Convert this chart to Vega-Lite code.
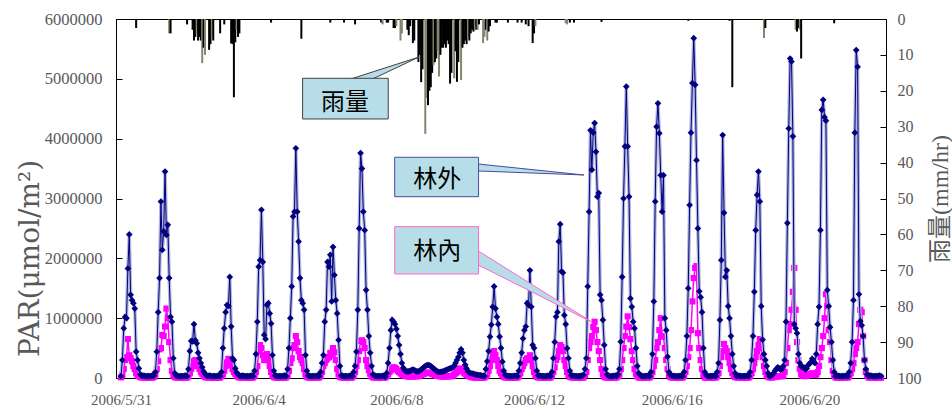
{
"$schema":"https://vega.github.io/schema/vega-lite/v6.json",
"width":770,"height":359,
"autosize":{"type":"none"},
"padding":{"left":116,"top":19,"right":66,"bottom":32},
"background":"white",
"config":{"view":{"stroke":"#000","strokeWidth":1},"axis":{"grid":false,"domainColor":"#000","tickColor":"#000","labelFont":"Liberation Serif","labelColor":"#595959","titleFont":"Liberation Serif, Noto Sans CJK TC","titleColor":"#595959","titleFontWeight":"normal"},
"axisLeft":{"titleFont":"DejaVu Serif","titleFontSize":28,"titleAngle":-90,"titleX":-86,"titleY":239,"titleAlign":"center","titleBaseline":"middle","labelFontSize":16.5,"tickSize":-6,"labelPadding":20,"labelFlush":false,"grid":false}},
"datasets":{
"par":[
{"t":"2006-05-31T00:00","o":30000,"i":10000},{"t":"2006-05-31T01:00","o":300000,"i":50000},{"t":"2006-05-31T02:00","o":830000,"i":150000},{"t":"2006-05-31T03:00","o":1020000,"i":300000},{"t":"2006-05-31T04:00","o":1000000,"i":350000},{"t":"2006-05-31T05:00","o":1830000,"i":650000},{"t":"2006-05-31T06:00","o":2400000,"i":380000},{"t":"2006-05-31T07:00","o":1390000,"i":330000},{"t":"2006-05-31T08:00","o":1300000,"i":280000},{"t":"2006-05-31T09:00","o":1250000,"i":200000},{"t":"2006-05-31T10:00","o":1160000,"i":150000},{"t":"2006-05-31T11:00","o":440000,"i":80000},{"t":"2006-05-31T12:00","o":300000,"i":50000},{"t":"2006-05-31T13:00","o":160000,"i":30000},{"t":"2006-05-31T14:00","o":60000,"i":15000},{"t":"2006-05-31T15:00","o":40000,"i":10000},{"t":"2006-05-31T16:00","o":40000,"i":10000},{"t":"2006-05-31T17:00","o":35000,"i":8000},{"t":"2006-05-31T18:00","o":30000,"i":5000},{"t":"2006-05-31T19:00","o":30000,"i":5000},{"t":"2006-05-31T20:00","o":30000,"i":5000},{"t":"2006-05-31T21:00","o":30000,"i":5000},{"t":"2006-05-31T22:00","o":35000,"i":5000},{"t":"2006-05-31T23:00","o":40000,"i":8000},
{"t":"2006-06-01T00:00","o":40000,"i":20000},{"t":"2006-06-01T01:00","o":100000,"i":60000},{"t":"2006-06-01T02:00","o":440000,"i":150000},{"t":"2006-06-01T03:00","o":1100000,"i":280000},{"t":"2006-06-01T04:00","o":1670000,"i":480000},{"t":"2006-06-01T05:00","o":2950000,"i":500000},{"t":"2006-06-01T06:00","o":2140000,"i":720000},{"t":"2006-06-01T07:00","o":2450000,"i":700000},{"t":"2006-06-01T08:00","o":3450000,"i":860000},{"t":"2006-06-01T09:00","o":2390000,"i":1160000},{"t":"2006-06-01T10:00","o":2560000,"i":1000000},{"t":"2006-06-01T11:00","o":1670000,"i":600000},{"t":"2006-06-01T12:00","o":1020000,"i":300000},{"t":"2006-06-01T13:00","o":940000,"i":120000},{"t":"2006-06-01T14:00","o":330000,"i":40000},{"t":"2006-06-01T15:00","o":80000,"i":15000},{"t":"2006-06-01T16:00","o":40000,"i":10000},{"t":"2006-06-01T17:00","o":35000,"i":8000},{"t":"2006-06-01T18:00","o":30000,"i":5000},{"t":"2006-06-01T19:00","o":30000,"i":5000},{"t":"2006-06-01T20:00","o":30000,"i":5000},{"t":"2006-06-01T21:00","o":30000,"i":5000},{"t":"2006-06-01T22:00","o":35000,"i":5000},{"t":"2006-06-01T23:00","o":40000,"i":8000},
{"t":"2006-06-02T00:00","o":30000,"i":10000},{"t":"2006-06-02T01:00","o":150000,"i":30000},{"t":"2006-06-02T02:00","o":450000,"i":80000},{"t":"2006-06-02T03:00","o":620000,"i":150000},{"t":"2006-06-02T04:00","o":610000,"i":200000},{"t":"2006-06-02T05:00","o":900000,"i":280000},{"t":"2006-06-02T06:00","o":630000,"i":300000},{"t":"2006-06-02T07:00","o":580000,"i":250000},{"t":"2006-06-02T08:00","o":420000,"i":200000},{"t":"2006-06-02T09:00","o":330000,"i":150000},{"t":"2006-06-02T10:00","o":250000,"i":100000},{"t":"2006-06-02T11:00","o":180000,"i":70000},{"t":"2006-06-02T12:00","o":110000,"i":40000},{"t":"2006-06-02T13:00","o":70000,"i":20000},{"t":"2006-06-02T14:00","o":45000,"i":10000},{"t":"2006-06-02T15:00","o":35000,"i":8000},{"t":"2006-06-02T16:00","o":40000,"i":10000},{"t":"2006-06-02T17:00","o":35000,"i":8000},{"t":"2006-06-02T18:00","o":30000,"i":5000},{"t":"2006-06-02T19:00","o":30000,"i":5000},{"t":"2006-06-02T20:00","o":30000,"i":5000},{"t":"2006-06-02T21:00","o":30000,"i":5000},{"t":"2006-06-02T22:00","o":35000,"i":5000},{"t":"2006-06-02T23:00","o":40000,"i":8000},
{"t":"2006-06-03T00:00","o":30000,"i":10000},{"t":"2006-06-03T01:00","o":100000,"i":30000},{"t":"2006-06-03T02:00","o":500000,"i":60000},{"t":"2006-06-03T03:00","o":830000,"i":120000},{"t":"2006-06-03T04:00","o":1100000,"i":200000},{"t":"2006-06-03T05:00","o":1220000,"i":260000},{"t":"2006-06-03T06:00","o":1200000,"i":320000},{"t":"2006-06-03T07:00","o":1690000,"i":300000},{"t":"2006-06-03T08:00","o":860000,"i":220000},{"t":"2006-06-03T09:00","o":330000,"i":150000},{"t":"2006-06-03T10:00","o":300000,"i":100000},{"t":"2006-06-03T11:00","o":160000,"i":70000},{"t":"2006-06-03T12:00","o":90000,"i":40000},{"t":"2006-06-03T13:00","o":60000,"i":20000},{"t":"2006-06-03T14:00","o":40000,"i":10000},{"t":"2006-06-03T15:00","o":30000,"i":8000},{"t":"2006-06-03T16:00","o":40000,"i":10000},{"t":"2006-06-03T17:00","o":35000,"i":8000},{"t":"2006-06-03T18:00","o":30000,"i":5000},{"t":"2006-06-03T19:00","o":30000,"i":5000},{"t":"2006-06-03T20:00","o":30000,"i":5000},{"t":"2006-06-03T21:00","o":30000,"i":5000},{"t":"2006-06-03T22:00","o":35000,"i":5000},{"t":"2006-06-03T23:00","o":40000,"i":8000},
{"t":"2006-06-04T00:00","o":30000,"i":10000},{"t":"2006-06-04T01:00","o":120000,"i":40000},{"t":"2006-06-04T02:00","o":400000,"i":100000},{"t":"2006-06-04T03:00","o":940000,"i":200000},{"t":"2006-06-04T04:00","o":1860000,"i":450000},{"t":"2006-06-04T05:00","o":1970000,"i":550000},{"t":"2006-06-04T06:00","o":2810000,"i":500000},{"t":"2006-06-04T07:00","o":1940000,"i":380000},{"t":"2006-06-04T08:00","o":720000,"i":300000},{"t":"2006-06-04T09:00","o":650000,"i":350000},{"t":"2006-06-04T10:00","o":1220000,"i":400000},{"t":"2006-06-04T11:00","o":1250000,"i":300000},{"t":"2006-06-04T12:00","o":1080000,"i":200000},{"t":"2006-06-04T13:00","o":910000,"i":100000},{"t":"2006-06-04T14:00","o":384000,"i":40000},{"t":"2006-06-04T15:00","o":120000,"i":15000},{"t":"2006-06-04T16:00","o":40000,"i":10000},{"t":"2006-06-04T17:00","o":35000,"i":8000},{"t":"2006-06-04T18:00","o":30000,"i":5000},{"t":"2006-06-04T19:00","o":30000,"i":5000},{"t":"2006-06-04T20:00","o":30000,"i":5000},{"t":"2006-06-04T21:00","o":30000,"i":5000},{"t":"2006-06-04T22:00","o":35000,"i":5000},{"t":"2006-06-04T23:00","o":40000,"i":8000},
{"t":"2006-06-05T00:00","o":30000,"i":10000},{"t":"2006-06-05T01:00","o":150000,"i":40000},{"t":"2006-06-05T02:00","o":500000,"i":120000},{"t":"2006-06-05T03:00","o":1000000,"i":250000},{"t":"2006-06-05T04:00","o":1530000,"i":330000},{"t":"2006-06-05T05:00","o":2700000,"i":500000},{"t":"2006-06-05T06:00","o":2780000,"i":550000},{"t":"2006-06-05T07:00","o":3840000,"i":700000},{"t":"2006-06-05T08:00","o":2780000,"i":600000},{"t":"2006-06-05T09:00","o":2280000,"i":450000},{"t":"2006-06-05T10:00","o":1670000,"i":350000},{"t":"2006-06-05T11:00","o":1300000,"i":300000},{"t":"2006-06-05T12:00","o":1250000,"i":250000},{"t":"2006-06-05T13:00","o":1140000,"i":150000},{"t":"2006-06-05T14:00","o":384000,"i":60000},{"t":"2006-06-05T15:00","o":120000,"i":20000},{"t":"2006-06-05T16:00","o":40000,"i":10000},{"t":"2006-06-05T17:00","o":35000,"i":8000},{"t":"2006-06-05T18:00","o":30000,"i":5000},{"t":"2006-06-05T19:00","o":30000,"i":5000},{"t":"2006-06-05T20:00","o":30000,"i":5000},{"t":"2006-06-05T21:00","o":30000,"i":5000},{"t":"2006-06-05T22:00","o":35000,"i":5000},{"t":"2006-06-05T23:00","o":40000,"i":8000},
{"t":"2006-06-06T00:00","o":30000,"i":10000},{"t":"2006-06-06T01:00","o":100000,"i":40000},{"t":"2006-06-06T02:00","o":250000,"i":100000},{"t":"2006-06-06T03:00","o":384000,"i":200000},{"t":"2006-06-06T04:00","o":941000,"i":250000},{"t":"2006-06-06T05:00","o":1140000,"i":300000},{"t":"2006-06-06T06:00","o":1940000,"i":330000},{"t":"2006-06-06T07:00","o":1860000,"i":350000},{"t":"2006-06-06T08:00","o":2060000,"i":420000},{"t":"2006-06-06T09:00","o":1280000,"i":380000},{"t":"2006-06-06T10:00","o":2190000,"i":500000},{"t":"2006-06-06T11:00","o":1720000,"i":430000},{"t":"2006-06-06T12:00","o":1300000,"i":300000},{"t":"2006-06-06T13:00","o":1080000,"i":150000},{"t":"2006-06-06T14:00","o":635000,"i":60000},{"t":"2006-06-06T15:00","o":200000,"i":20000},{"t":"2006-06-06T16:00","o":40000,"i":10000},{"t":"2006-06-06T17:00","o":35000,"i":8000},{"t":"2006-06-06T18:00","o":30000,"i":5000},{"t":"2006-06-06T19:00","o":30000,"i":5000},{"t":"2006-06-06T20:00","o":30000,"i":5000},{"t":"2006-06-06T21:00","o":30000,"i":5000},{"t":"2006-06-06T22:00","o":35000,"i":5000},{"t":"2006-06-06T23:00","o":40000,"i":8000},
{"t":"2006-06-07T00:00","o":30000,"i":10000},{"t":"2006-06-07T01:00","o":100000,"i":40000},{"t":"2006-06-07T02:00","o":200000,"i":100000},{"t":"2006-06-07T03:00","o":440000,"i":200000},{"t":"2006-06-07T04:00","o":1140000,"i":300000},{"t":"2006-06-07T05:00","o":2500000,"i":450000},{"t":"2006-06-07T06:00","o":3760000,"i":620000},{"t":"2006-06-07T07:00","o":3500000,"i":630000},{"t":"2006-06-07T08:00","o":2780000,"i":600000},{"t":"2006-06-07T09:00","o":2470000,"i":500000},{"t":"2006-06-07T10:00","o":1470000,"i":300000},{"t":"2006-06-07T11:00","o":1140000,"i":200000},{"t":"2006-06-07T12:00","o":700000,"i":130000},{"t":"2006-06-07T13:00","o":420000,"i":70000},{"t":"2006-06-07T14:00","o":200000,"i":30000},{"t":"2006-06-07T15:00","o":60000,"i":10000},{"t":"2006-06-07T16:00","o":40000,"i":10000},{"t":"2006-06-07T17:00","o":35000,"i":8000},{"t":"2006-06-07T18:00","o":30000,"i":5000},{"t":"2006-06-07T19:00","o":30000,"i":5000},{"t":"2006-06-07T20:00","o":30000,"i":5000},{"t":"2006-06-07T21:00","o":30000,"i":5000},{"t":"2006-06-07T22:00","o":35000,"i":5000},{"t":"2006-06-07T23:00","o":40000,"i":8000},
{"t":"2006-06-08T00:00","o":20000,"i":10000},{"t":"2006-06-08T01:00","o":80000,"i":30000},{"t":"2006-06-08T02:00","o":250000,"i":60000},{"t":"2006-06-08T03:00","o":500000,"i":100000},{"t":"2006-06-08T04:00","o":800000,"i":130000},{"t":"2006-06-08T05:00","o":970000,"i":160000},{"t":"2006-06-08T06:00","o":940000,"i":180000},{"t":"2006-06-08T07:00","o":900000,"i":170000},{"t":"2006-06-08T08:00","o":820000,"i":150000},{"t":"2006-06-08T09:00","o":700000,"i":120000},{"t":"2006-06-08T10:00","o":550000,"i":100000},{"t":"2006-06-08T11:00","o":400000,"i":80000},{"t":"2006-06-08T12:00","o":250000,"i":60000},{"t":"2006-06-08T13:00","o":170000,"i":50000},{"t":"2006-06-08T14:00","o":130000,"i":40000},{"t":"2006-06-08T15:00","o":110000,"i":30000},{"t":"2006-06-08T16:00","o":110000,"i":30000},{"t":"2006-06-08T17:00","o":110000,"i":25000},{"t":"2006-06-08T18:00","o":120000,"i":25000},{"t":"2006-06-08T19:00","o":130000,"i":25000},{"t":"2006-06-08T20:00","o":140000,"i":25000},{"t":"2006-06-08T21:00","o":130000,"i":30000},{"t":"2006-06-08T22:00","o":120000,"i":30000},{"t":"2006-06-08T23:00","o":110000,"i":30000},
{"t":"2006-06-09T00:00","o":110000,"i":30000},{"t":"2006-06-09T01:00","o":120000,"i":40000},{"t":"2006-06-09T02:00","o":140000,"i":50000},{"t":"2006-06-09T03:00","o":160000,"i":60000},{"t":"2006-06-09T04:00","o":180000,"i":70000},{"t":"2006-06-09T05:00","o":200000,"i":80000},{"t":"2006-06-09T06:00","o":210000,"i":90000},{"t":"2006-06-09T07:00","o":217000,"i":90000},{"t":"2006-06-09T08:00","o":210000,"i":85000},{"t":"2006-06-09T09:00","o":200000,"i":80000},{"t":"2006-06-09T10:00","o":180000,"i":70000},{"t":"2006-06-09T11:00","o":160000,"i":60000},{"t":"2006-06-09T12:00","o":140000,"i":50000},{"t":"2006-06-09T13:00","o":120000,"i":40000},{"t":"2006-06-09T14:00","o":106000,"i":35000},{"t":"2006-06-09T15:00","o":100000,"i":30000},{"t":"2006-06-09T16:00","o":100000,"i":30000},{"t":"2006-06-09T17:00","o":105000,"i":25000},{"t":"2006-06-09T18:00","o":110000,"i":25000},{"t":"2006-06-09T19:00","o":120000,"i":25000},{"t":"2006-06-09T20:00","o":130000,"i":25000},{"t":"2006-06-09T21:00","o":140000,"i":30000},{"t":"2006-06-09T22:00","o":150000,"i":30000},{"t":"2006-06-09T23:00","o":160000,"i":30000},
{"t":"2006-06-10T00:00","o":170000,"i":30000},{"t":"2006-06-10T01:00","o":180000,"i":40000},{"t":"2006-06-10T02:00","o":200000,"i":60000},{"t":"2006-06-10T03:00","o":250000,"i":80000},{"t":"2006-06-10T04:00","o":300000,"i":100000},{"t":"2006-06-10T05:00","o":350000,"i":130000},{"t":"2006-06-10T06:00","o":420000,"i":160000},{"t":"2006-06-10T07:00","o":480000,"i":150000},{"t":"2006-06-10T08:00","o":420000,"i":120000},{"t":"2006-06-10T09:00","o":300000,"i":90000},{"t":"2006-06-10T10:00","o":220000,"i":70000},{"t":"2006-06-10T11:00","o":160000,"i":50000},{"t":"2006-06-10T12:00","o":110000,"i":40000},{"t":"2006-06-10T13:00","o":90000,"i":30000},{"t":"2006-06-10T14:00","o":80000,"i":20000},{"t":"2006-06-10T15:00","o":75000,"i":15000},{"t":"2006-06-10T16:00","o":70000,"i":10000},{"t":"2006-06-10T17:00","o":60000,"i":8000},{"t":"2006-06-10T18:00","o":55000,"i":5000},{"t":"2006-06-10T19:00","o":50000,"i":5000},{"t":"2006-06-10T20:00","o":50000,"i":5000},{"t":"2006-06-10T21:00","o":45000,"i":5000},{"t":"2006-06-10T22:00","o":40000,"i":5000},{"t":"2006-06-10T23:00","o":35000,"i":8000},
{"t":"2006-06-11T00:00","o":30000,"i":10000},{"t":"2006-06-11T01:00","o":150000,"i":30000},{"t":"2006-06-11T02:00","o":280000,"i":60000},{"t":"2006-06-11T03:00","o":450000,"i":120000},{"t":"2006-06-11T04:00","o":690000,"i":200000},{"t":"2006-06-11T05:00","o":890000,"i":300000},{"t":"2006-06-11T06:00","o":1190000,"i":400000},{"t":"2006-06-11T07:00","o":1530000,"i":450000},{"t":"2006-06-11T08:00","o":1160000,"i":380000},{"t":"2006-06-11T09:00","o":1020000,"i":300000},{"t":"2006-06-11T10:00","o":900000,"i":200000},{"t":"2006-06-11T11:00","o":690000,"i":120000},{"t":"2006-06-11T12:00","o":500000,"i":80000},{"t":"2006-06-11T13:00","o":273000,"i":50000},{"t":"2006-06-11T14:00","o":120000,"i":20000},{"t":"2006-06-11T15:00","o":50000,"i":10000},{"t":"2006-06-11T16:00","o":40000,"i":10000},{"t":"2006-06-11T17:00","o":35000,"i":8000},{"t":"2006-06-11T18:00","o":30000,"i":5000},{"t":"2006-06-11T19:00","o":30000,"i":5000},{"t":"2006-06-11T20:00","o":30000,"i":5000},{"t":"2006-06-11T21:00","o":30000,"i":5000},{"t":"2006-06-11T22:00","o":35000,"i":5000},{"t":"2006-06-11T23:00","o":40000,"i":8000},
{"t":"2006-06-12T00:00","o":30000,"i":10000},{"t":"2006-06-12T01:00","o":120000,"i":30000},{"t":"2006-06-12T02:00","o":250000,"i":80000},{"t":"2006-06-12T03:00","o":420000,"i":150000},{"t":"2006-06-12T04:00","o":660000,"i":200000},{"t":"2006-06-12T05:00","o":800000,"i":250000},{"t":"2006-06-12T06:00","o":860000,"i":300000},{"t":"2006-06-12T07:00","o":1250000,"i":330000},{"t":"2006-06-12T08:00","o":1220000,"i":300000},{"t":"2006-06-12T09:00","o":1800000,"i":380000},{"t":"2006-06-12T10:00","o":1190000,"i":300000},{"t":"2006-06-12T11:00","o":550000,"i":200000},{"t":"2006-06-12T12:00","o":500000,"i":100000},{"t":"2006-06-12T13:00","o":330000,"i":50000},{"t":"2006-06-12T14:00","o":120000,"i":20000},{"t":"2006-06-12T15:00","o":40000,"i":10000},{"t":"2006-06-12T16:00","o":40000,"i":10000},{"t":"2006-06-12T17:00","o":35000,"i":8000},{"t":"2006-06-12T18:00","o":30000,"i":5000},{"t":"2006-06-12T19:00","o":30000,"i":5000},{"t":"2006-06-12T20:00","o":30000,"i":5000},{"t":"2006-06-12T21:00","o":30000,"i":5000},{"t":"2006-06-12T22:00","o":35000,"i":5000},{"t":"2006-06-12T23:00","o":40000,"i":8000},
{"t":"2006-06-13T00:00","o":30000,"i":10000},{"t":"2006-06-13T01:00","o":100000,"i":40000},{"t":"2006-06-13T02:00","o":330000,"i":100000},{"t":"2006-06-13T03:00","o":600000,"i":180000},{"t":"2006-06-13T04:00","o":1025000,"i":300000},{"t":"2006-06-13T05:00","o":1100000,"i":350000},{"t":"2006-06-13T06:00","o":2280000,"i":450000},{"t":"2006-06-13T07:00","o":2570000,"i":550000},{"t":"2006-06-13T08:00","o":1780000,"i":520000},{"t":"2006-06-13T09:00","o":1760000,"i":450000},{"t":"2006-06-13T10:00","o":1050000,"i":300000},{"t":"2006-06-13T11:00","o":900000,"i":200000},{"t":"2006-06-13T12:00","o":496000,"i":100000},{"t":"2006-06-13T13:00","o":330000,"i":50000},{"t":"2006-06-13T14:00","o":120000,"i":20000},{"t":"2006-06-13T15:00","o":40000,"i":10000},{"t":"2006-06-13T16:00","o":40000,"i":10000},{"t":"2006-06-13T17:00","o":35000,"i":8000},{"t":"2006-06-13T18:00","o":30000,"i":5000},{"t":"2006-06-13T19:00","o":30000,"i":5000},{"t":"2006-06-13T20:00","o":30000,"i":5000},{"t":"2006-06-13T21:00","o":30000,"i":5000},{"t":"2006-06-13T22:00","o":35000,"i":5000},{"t":"2006-06-13T23:00","o":40000,"i":8000},
{"t":"2006-06-14T00:00","o":50000,"i":10000},{"t":"2006-06-14T01:00","o":150000,"i":50000},{"t":"2006-06-14T02:00","o":330000,"i":100000},{"t":"2006-06-14T03:00","o":1530000,"i":300000},{"t":"2006-06-14T04:00","o":2780000,"i":500000},{"t":"2006-06-14T05:00","o":4140000,"i":600000},{"t":"2006-06-14T06:00","o":3480000,"i":700000},{"t":"2006-06-14T07:00","o":4100000,"i":850000},{"t":"2006-06-14T08:00","o":4260000,"i":940000},{"t":"2006-06-14T09:00","o":3780000,"i":800000},{"t":"2006-06-14T10:00","o":3030000,"i":600000},{"t":"2006-06-14T11:00","o":3090000,"i":450000},{"t":"2006-06-14T12:00","o":1390000,"i":300000},{"t":"2006-06-14T13:00","o":1300000,"i":150000},{"t":"2006-06-14T14:00","o":970000,"i":60000},{"t":"2006-06-14T15:00","o":550000,"i":20000},{"t":"2006-06-14T16:00","o":150000,"i":10000},{"t":"2006-06-14T17:00","o":60000,"i":8000},{"t":"2006-06-14T18:00","o":40000,"i":5000},{"t":"2006-06-14T19:00","o":30000,"i":5000},{"t":"2006-06-14T20:00","o":30000,"i":5000},{"t":"2006-06-14T21:00","o":30000,"i":5000},{"t":"2006-06-14T22:00","o":35000,"i":5000},{"t":"2006-06-14T23:00","o":40000,"i":8000},
{"t":"2006-06-15T00:00","o":30000,"i":10000},{"t":"2006-06-15T01:00","o":60000,"i":30000},{"t":"2006-06-15T02:00","o":150000,"i":60000},{"t":"2006-06-15T03:00","o":607000,"i":150000},{"t":"2006-06-15T04:00","o":1690000,"i":300000},{"t":"2006-06-15T05:00","o":3000000,"i":500000},{"t":"2006-06-15T06:00","o":3870000,"i":700000},{"t":"2006-06-15T07:00","o":4870000,"i":860000},{"t":"2006-06-15T08:00","o":3870000,"i":1030000},{"t":"2006-06-15T09:00","o":3030000,"i":850000},{"t":"2006-06-15T10:00","o":1330000,"i":650000},{"t":"2006-06-15T11:00","o":1190000,"i":450000},{"t":"2006-06-15T12:00","o":940000,"i":300000},{"t":"2006-06-15T13:00","o":830000,"i":150000},{"t":"2006-06-15T14:00","o":500000,"i":70000},{"t":"2006-06-15T15:00","o":200000,"i":30000},{"t":"2006-06-15T16:00","o":80000,"i":10000},{"t":"2006-06-15T17:00","o":50000,"i":8000},{"t":"2006-06-15T18:00","o":35000,"i":5000},{"t":"2006-06-15T19:00","o":30000,"i":5000},{"t":"2006-06-15T20:00","o":30000,"i":5000},{"t":"2006-06-15T21:00","o":30000,"i":5000},{"t":"2006-06-15T22:00","o":35000,"i":5000},{"t":"2006-06-15T23:00","o":40000,"i":8000},
{"t":"2006-06-16T00:00","o":30000,"i":10000},{"t":"2006-06-16T01:00","o":100000,"i":40000},{"t":"2006-06-16T02:00","o":400000,"i":100000},{"t":"2006-06-16T03:00","o":1280000,"i":200000},{"t":"2006-06-16T04:00","o":2950000,"i":300000},{"t":"2006-06-16T05:00","o":4200000,"i":500000},{"t":"2006-06-16T06:00","o":4590000,"i":600000},{"t":"2006-06-16T07:00","o":4090000,"i":800000},{"t":"2006-06-16T08:00","o":3390000,"i":1000000},{"t":"2006-06-16T09:00","o":2780000,"i":700000},{"t":"2006-06-16T10:00","o":3390000,"i":690000},{"t":"2006-06-16T11:00","o":1000000,"i":500000},{"t":"2006-06-16T12:00","o":800000,"i":300000},{"t":"2006-06-16T13:00","o":357000,"i":150000},{"t":"2006-06-16T14:00","o":100000,"i":50000},{"t":"2006-06-16T15:00","o":50000,"i":15000},{"t":"2006-06-16T16:00","o":40000,"i":10000},{"t":"2006-06-16T17:00","o":35000,"i":8000},{"t":"2006-06-16T18:00","o":30000,"i":5000},{"t":"2006-06-16T19:00","o":30000,"i":5000},{"t":"2006-06-16T20:00","o":30000,"i":5000},{"t":"2006-06-16T21:00","o":30000,"i":5000},{"t":"2006-06-16T22:00","o":35000,"i":5000},{"t":"2006-06-16T23:00","o":40000,"i":8000},
{"t":"2006-06-17T00:00","o":30000,"i":10000},{"t":"2006-06-17T01:00","o":100000,"i":40000},{"t":"2006-06-17T02:00","o":300000,"i":100000},{"t":"2006-06-17T03:00","o":700000,"i":200000},{"t":"2006-06-17T04:00","o":1500000,"i":350000},{"t":"2006-06-17T05:00","o":2890000,"i":500000},{"t":"2006-06-17T06:00","o":4100000,"i":800000},{"t":"2006-06-17T07:00","o":4930000,"i":1280000},{"t":"2006-06-17T08:00","o":5680000,"i":1670000},{"t":"2006-06-17T09:00","o":4900000,"i":1840000},{"t":"2006-06-17T10:00","o":3640000,"i":1870000},{"t":"2006-06-17T11:00","o":2500000,"i":750000},{"t":"2006-06-17T12:00","o":1450000,"i":500000},{"t":"2006-06-17T13:00","o":1350000,"i":300000},{"t":"2006-06-17T14:00","o":1100000,"i":150000},{"t":"2006-06-17T15:00","o":500000,"i":50000},{"t":"2006-06-17T16:00","o":100000,"i":10000},{"t":"2006-06-17T17:00","o":50000,"i":8000},{"t":"2006-06-17T18:00","o":35000,"i":5000},{"t":"2006-06-17T19:00","o":30000,"i":5000},{"t":"2006-06-17T20:00","o":30000,"i":5000},{"t":"2006-06-17T21:00","o":30000,"i":5000},{"t":"2006-06-17T22:00","o":35000,"i":5000},{"t":"2006-06-17T23:00","o":40000,"i":8000},
{"t":"2006-06-18T00:00","o":30000,"i":10000},{"t":"2006-06-18T01:00","o":100000,"i":30000},{"t":"2006-06-18T02:00","o":250000,"i":80000},{"t":"2006-06-18T03:00","o":970000,"i":200000},{"t":"2006-06-18T04:00","o":1970000,"i":350000},{"t":"2006-06-18T05:00","o":4060000,"i":450000},{"t":"2006-06-18T06:00","o":2760000,"i":570000},{"t":"2006-06-18T07:00","o":1690000,"i":500000},{"t":"2006-06-18T08:00","o":1800000,"i":450000},{"t":"2006-06-18T09:00","o":1200000,"i":350000},{"t":"2006-06-18T10:00","o":1000000,"i":250000},{"t":"2006-06-18T11:00","o":700000,"i":150000},{"t":"2006-06-18T12:00","o":400000,"i":80000},{"t":"2006-06-18T13:00","o":200000,"i":40000},{"t":"2006-06-18T14:00","o":80000,"i":15000},{"t":"2006-06-18T15:00","o":30000,"i":10000},{"t":"2006-06-18T16:00","o":40000,"i":10000},{"t":"2006-06-18T17:00","o":35000,"i":8000},{"t":"2006-06-18T18:00","o":30000,"i":5000},{"t":"2006-06-18T19:00","o":30000,"i":5000},{"t":"2006-06-18T20:00","o":30000,"i":5000},{"t":"2006-06-18T21:00","o":30000,"i":5000},{"t":"2006-06-18T22:00","o":35000,"i":5000},{"t":"2006-06-18T23:00","o":40000,"i":8000},
{"t":"2006-06-19T00:00","o":30000,"i":10000},{"t":"2006-06-19T01:00","o":100000,"i":30000},{"t":"2006-06-19T02:00","o":300000,"i":80000},{"t":"2006-06-19T03:00","o":700000,"i":150000},{"t":"2006-06-19T04:00","o":1440000,"i":250000},{"t":"2006-06-19T05:00","o":2470000,"i":350000},{"t":"2006-06-19T06:00","o":3060000,"i":450000},{"t":"2006-06-19T07:00","o":3450000,"i":550000},{"t":"2006-06-19T08:00","o":2950000,"i":650000},{"t":"2006-06-19T09:00","o":1200000,"i":500000},{"t":"2006-06-19T10:00","o":640000,"i":350000},{"t":"2006-06-19T11:00","o":400000,"i":200000},{"t":"2006-06-19T12:00","o":300000,"i":100000},{"t":"2006-06-19T13:00","o":200000,"i":50000},{"t":"2006-06-19T14:00","o":80000,"i":20000},{"t":"2006-06-19T15:00","o":30000,"i":10000},{"t":"2006-06-19T16:00","o":40000,"i":10000},{"t":"2006-06-19T17:00","o":50000,"i":10000},{"t":"2006-06-19T18:00","o":80000,"i":15000},{"t":"2006-06-19T19:00","o":120000,"i":20000},{"t":"2006-06-19T20:00","o":150000,"i":25000},{"t":"2006-06-19T21:00","o":180000,"i":30000},{"t":"2006-06-19T22:00","o":160000,"i":30000},{"t":"2006-06-19T23:00","o":140000,"i":30000},
{"t":"2006-06-20T00:00","o":150000,"i":30000},{"t":"2006-06-20T01:00","o":200000,"i":40000},{"t":"2006-06-20T02:00","o":300000,"i":100000},{"t":"2006-06-20T03:00","o":941000,"i":250000},{"t":"2006-06-20T04:00","o":2590000,"i":500000},{"t":"2006-06-20T05:00","o":4170000,"i":800000},{"t":"2006-06-20T06:00","o":5340000,"i":900000},{"t":"2006-06-20T07:00","o":5290000,"i":1140000},{"t":"2006-06-20T08:00","o":4040000,"i":1440000},{"t":"2006-06-20T09:00","o":900000,"i":1840000},{"t":"2006-06-20T10:00","o":830000,"i":1140000},{"t":"2006-06-20T11:00","o":750000,"i":600000},{"t":"2006-06-20T12:00","o":400000,"i":300000},{"t":"2006-06-20T13:00","o":250000,"i":150000},{"t":"2006-06-20T14:00","o":200000,"i":60000},{"t":"2006-06-20T15:00","o":180000,"i":40000},{"t":"2006-06-20T16:00","o":180000,"i":40000},{"t":"2006-06-20T17:00","o":140000,"i":30000},{"t":"2006-06-20T18:00","o":160000,"i":35000},{"t":"2006-06-20T19:00","o":210000,"i":50000},{"t":"2006-06-20T20:00","o":240000,"i":60000},{"t":"2006-06-20T21:00","o":260000,"i":70000},{"t":"2006-06-20T22:00","o":320000,"i":80000},{"t":"2006-06-20T23:00","o":270000,"i":70000},
{"t":"2006-06-21T00:00","o":250000,"i":50000},{"t":"2006-06-21T01:00","o":400000,"i":60000},{"t":"2006-06-21T02:00","o":900000,"i":100000},{"t":"2006-06-21T03:00","o":1190000,"i":200000},{"t":"2006-06-21T04:00","o":2470000,"i":350000},{"t":"2006-06-21T05:00","o":4480000,"i":500000},{"t":"2006-06-21T06:00","o":4650000,"i":700000},{"t":"2006-06-21T07:00","o":4360000,"i":1000000},{"t":"2006-06-21T08:00","o":4300000,"i":1400000},{"t":"2006-06-21T09:00","o":1470000,"i":1200000},{"t":"2006-06-21T10:00","o":1200000,"i":800000},{"t":"2006-06-21T11:00","o":850000,"i":600000},{"t":"2006-06-21T12:00","o":600000,"i":300000},{"t":"2006-06-21T13:00","o":300000,"i":120000},{"t":"2006-06-21T14:00","o":100000,"i":40000},{"t":"2006-06-21T15:00","o":30000,"i":10000},{"t":"2006-06-21T16:00","o":40000,"i":10000},{"t":"2006-06-21T17:00","o":35000,"i":8000},{"t":"2006-06-21T18:00","o":30000,"i":5000},{"t":"2006-06-21T19:00","o":30000,"i":5000},{"t":"2006-06-21T20:00","o":30000,"i":5000},{"t":"2006-06-21T21:00","o":30000,"i":5000},{"t":"2006-06-21T22:00","o":35000,"i":5000},{"t":"2006-06-21T23:00","o":40000,"i":8000},
{"t":"2006-06-22T00:00","o":30000,"i":10000},{"t":"2006-06-22T01:00","o":100000,"i":30000},{"t":"2006-06-22T02:00","o":250000,"i":80000},{"t":"2006-06-22T03:00","o":600000,"i":150000},{"t":"2006-06-22T04:00","o":1300000,"i":250000},{"t":"2006-06-22T05:00","o":4100000,"i":400000},{"t":"2006-06-22T06:00","o":5480000,"i":500000},{"t":"2006-06-22T07:00","o":5200000,"i":600000},{"t":"2006-06-22T08:00","o":1400000,"i":900000},{"t":"2006-06-22T09:00","o":950000,"i":1140000},{"t":"2006-06-22T10:00","o":880000,"i":1100000},{"t":"2006-06-22T11:00","o":700000,"i":700000},{"t":"2006-06-22T12:00","o":300000,"i":300000},{"t":"2006-06-22T13:00","o":150000,"i":100000},{"t":"2006-06-22T14:00","o":60000,"i":40000},{"t":"2006-06-22T15:00","o":30000,"i":10000},{"t":"2006-06-22T16:00","o":40000,"i":10000},{"t":"2006-06-22T17:00","o":35000,"i":8000},{"t":"2006-06-22T18:00","o":30000,"i":5000},{"t":"2006-06-22T19:00","o":30000,"i":5000},{"t":"2006-06-22T20:00","o":30000,"i":5000},{"t":"2006-06-22T21:00","o":30000,"i":5000},{"t":"2006-06-22T22:00","o":35000,"i":5000},{"t":"2006-06-22T23:00","o":40000,"i":8000},
{"t":"2006-06-23T00:00","o":30000,"i":5000}
],
"rain":[
{"t":"2006-05-31T11:00","r":2.5,"g":"A"},{"t":"2006-06-01T11:00","r":4,"g":"B"},{"t":"2006-06-01T12:00","r":4,"g":"A"},{"t":"2006-06-02T00:00","r":1.5,"g":"A"},{"t":"2006-06-02T04:00","r":3,"g":"A"},{"t":"2006-06-02T05:00","r":6,"g":"A"},{"t":"2006-06-02T06:00","r":5,"g":"A"},{"t":"2006-06-02T07:00","r":4,"g":"B"},{"t":"2006-06-02T08:00","r":6,"g":"A"},{"t":"2006-06-02T09:00","r":5,"g":"A"},{"t":"2006-06-02T10:00","r":6,"g":"A"},{"t":"2006-06-02T11:00","r":12.3,"g":"B"},{"t":"2006-06-02T12:00","r":8,"g":"A"},{"t":"2006-06-02T13:00","r":10,"g":"B"},{"t":"2006-06-02T16:00","r":8.6,"g":"A"},{"t":"2006-06-02T17:00","r":7,"g":"A"},{"t":"2006-06-02T18:00","r":5,"g":"B"},{"t":"2006-06-02T19:00","r":6,"g":"A"},{"t":"2006-06-03T00:00","r":4,"g":"A"},{"t":"2006-06-03T03:00","r":1.5,"g":"A"},{"t":"2006-06-03T08:00","r":6.8,"g":"A"},{"t":"2006-06-03T09:00","r":7,"g":"A"},{"t":"2006-06-03T10:00","r":21.8,"g":"A"},{"t":"2006-06-03T11:00","r":6.5,"g":"A"},{"t":"2006-06-03T12:00","r":3,"g":"B"},{"t":"2006-06-03T13:00","r":5,"g":"A"},{"t":"2006-06-03T14:00","r":4,"g":"A"},{"t":"2006-06-04T13:00","r":1,"g":"A"},{"t":"2006-06-05T11:00","r":5.5,"g":"A"},{"t":"2006-06-06T08:00","r":1,"g":"A"},{"t":"2006-06-06T18:00","r":1,"g":"A"},{"t":"2006-06-07T02:00","r":1.5,"g":"A"},{"t":"2006-06-07T21:00","r":1,"g":"A"},{"t":"2006-06-07T22:00","r":1.5,"g":"B"},{"t":"2006-06-08T01:00","r":1,"g":"A"},{"t":"2006-06-08T02:00","r":1,"g":"A"},{"t":"2006-06-08T06:00","r":2.5,"g":"A"},{"t":"2006-06-08T07:00","r":2.5,"g":"A"},{"t":"2006-06-08T08:00","r":2,"g":"B"},{"t":"2006-06-08T11:00","r":6,"g":"B"},{"t":"2006-06-08T12:00","r":4,"g":"B"},{"t":"2006-06-08T16:00","r":3,"g":"A"},{"t":"2006-06-08T17:00","r":4.5,"g":"A"},{"t":"2006-06-08T18:00","r":2,"g":"A"},{"t":"2006-06-08T20:00","r":6.7,"g":"A"},{"t":"2006-06-08T21:00","r":6,"g":"A"},{"t":"2006-06-09T00:00","r":12,"g":"A"},{"t":"2006-06-09T01:00","r":10,"g":"A"},{"t":"2006-06-09T02:00","r":17.6,"g":"A"},{"t":"2006-06-09T03:00","r":14,"g":"A"},{"t":"2006-06-09T05:00","r":32,"g":"B"},{"t":"2006-06-09T06:00","r":22,"g":"B"},{"t":"2006-06-09T07:00","r":24,"g":"A"},{"t":"2006-06-09T08:00","r":20,"g":"A"},{"t":"2006-06-09T09:00","r":19,"g":"A"},{"t":"2006-06-09T10:00","r":15,"g":"A"},{"t":"2006-06-09T11:00","r":12.8,"g":"B"},{"t":"2006-06-09T12:00","r":12,"g":"A"},{"t":"2006-06-09T13:00","r":11,"g":"A"},{"t":"2006-06-09T14:00","r":9,"g":"B"},{"t":"2006-06-09T15:00","r":16,"g":"B"},{"t":"2006-06-09T16:00","r":10,"g":"A"},{"t":"2006-06-09T17:00","r":8,"g":"A"},{"t":"2006-06-09T18:00","r":8,"g":"A"},{"t":"2006-06-09T19:00","r":7,"g":"A"},{"t":"2006-06-09T20:00","r":8,"g":"A"},{"t":"2006-06-09T21:00","r":6,"g":"A"},{"t":"2006-06-09T22:00","r":7,"g":"A"},{"t":"2006-06-09T23:00","r":18,"g":"A"},{"t":"2006-06-10T00:00","r":15,"g":"A"},{"t":"2006-06-10T02:00","r":16.5,"g":"B"},{"t":"2006-06-10T03:00","r":9,"g":"A"},{"t":"2006-06-10T04:00","r":17.5,"g":"A"},{"t":"2006-06-10T05:00","r":12,"g":"A"},{"t":"2006-06-10T07:00","r":17,"g":"B"},{"t":"2006-06-10T08:00","r":8,"g":"A"},{"t":"2006-06-10T09:00","r":7,"g":"A"},{"t":"2006-06-10T10:00","r":6,"g":"A"},{"t":"2006-06-10T11:00","r":7,"g":"A"},{"t":"2006-06-10T12:00","r":5,"g":"B"},{"t":"2006-06-10T13:00","r":6,"g":"A"},{"t":"2006-06-10T14:00","r":4,"g":"A"},{"t":"2006-06-10T15:00","r":3,"g":"A"},{"t":"2006-06-10T16:00","r":3.5,"g":"A"},{"t":"2006-06-10T17:00","r":2,"g":"B"},{"t":"2006-06-10T18:00","r":3,"g":"A"},{"t":"2006-06-10T19:00","r":3,"g":"B"},{"t":"2006-06-10T20:00","r":1.5,"g":"A"},{"t":"2006-06-10T23:00","r":6.7,"g":"B"},{"t":"2006-06-11T00:00","r":5,"g":"B"},{"t":"2006-06-11T01:00","r":3,"g":"A"},{"t":"2006-06-11T02:00","r":6,"g":"B"},{"t":"2006-06-11T03:00","r":3.5,"g":"A"},{"t":"2006-06-11T04:00","r":2,"g":"A"},{"t":"2006-06-11T08:00","r":1,"g":"A"},{"t":"2006-06-11T09:00","r":1,"g":"A"},{"t":"2006-06-11T17:00","r":1,"g":"A"},{"t":"2006-06-12T00:00","r":1,"g":"A"},{"t":"2006-06-12T03:00","r":1,"g":"A"},{"t":"2006-06-12T06:00","r":1.5,"g":"A"},{"t":"2006-06-12T08:00","r":2,"g":"A"},{"t":"2006-06-12T11:00","r":6.7,"g":"A"},{"t":"2006-06-12T12:00","r":4,"g":"A"},{"t":"2006-06-12T13:00","r":2,"g":"B"},{"t":"2006-06-13T11:00","r":1.2,"g":"B"},{"t":"2006-06-13T12:00","r":1.5,"g":"B"},{"t":"2006-06-13T14:00","r":1,"g":"A"},{"t":"2006-06-13T17:00","r":1,"g":"A"},{"t":"2006-06-14T13:00","r":0.8,"g":"A"},{"t":"2006-06-17T04:00","r":0.5,"g":"A"},{"t":"2006-06-18T10:00","r":0.5,"g":"A"},{"t":"2006-06-18T12:00","r":19,"g":"A"},{"t":"2006-06-19T11:00","r":5.3,"g":"B"},{"t":"2006-06-19T12:00","r":2.5,"g":"A"},{"t":"2006-06-20T10:00","r":3,"g":"B"},{"t":"2006-06-20T11:00","r":3.5,"g":"A"},{"t":"2006-06-20T12:00","r":2.5,"g":"A"},{"t":"2006-06-20T13:00","r":3,"g":"B"},{"t":"2006-06-20T14:00","r":11,"g":"A"},{"t":"2006-06-21T14:00","r":1.2,"g":"A"}
],
"ptr":[
{"t":"2006-06-06T09:24","y":4897000,"y2":4897000,"k":"rain"},{"t":"2006-06-07T05:30","y":5046000,"y2":4897000,"k":"rain"},{"t":"2006-06-09T00:30","y":5365000,"y2":5365000,"k":"rain"},
{"t":"2006-06-10T13:48","y":3590000,"y2":3465000,"k":"out"},{"t":"2006-06-14T00:12","y":3393000,"y2":3393000,"k":"out"},
{"t":"2006-06-10T13:48","y":2206000,"y2":1955000,"k":"in"},{"t":"2006-06-14T05:54","y":936000,"y2":936000,"k":"in"}
],
"box":[
{"t":"2006-06-05T11:54","t2":"2006-06-08T02:06","y":5009000,"y2":4329000,"k":"rain"},
{"t":"2006-06-08T06:48","t2":"2006-06-10T19:42","y":3689000,"y2":3030000,"k":"out"},
{"t":"2006-06-08T06:48","t2":"2006-06-10T19:42","y":2529000,"y2":1738000,"k":"in"}
],
"lbl":[
{"t":"2006-06-06T18:42","y":4596000,"s":"雨量"},
{"t":"2006-06-09T13:42","y":3309000,"s":"林外"},
{"t":"2006-06-09T13:42","y":2114000,"s":"林內"}
]
},
"encoding":{"x":{"field":"t","type":"temporal","title":null,
 "scale":{"domain":[{"year":2006,"month":5,"date":31},{"year":2006,"month":6,"date":23}],"nice":false},
 "axis":{"values":[{"year":2006,"month":5,"date":31,"hours":0},{"year":2006,"month":6,"date":4,"hours":4},{"year":2006,"month":6,"date":8,"hours":8},{"year":2006,"month":6,"date":12,"hours":12},{"year":2006,"month":6,"date":16,"hours":16},{"year":2006,"month":6,"date":20,"hours":20}],
  "format":"%Y/%-m/%-d","labelFlush":false,"ticks":false,"labelPadding":14,"labelFontSize":15,"grid":false}}},
"layer":[
 {"data":{"name":"rain"},"mark":{"type":"bar","width":2},
  "encoding":{
   "y":{"field":"r","type":"quantitative","scale":{"domain":[0,100],"reverse":true,"nice":false},
    "axis":{"orient":"right","values":[0,10,20,30,40,50,60,70,80,90,100],"title":"雨量(mm/hr)","titleFontSize":24,"titleAngle":-90,"titleX":54,"titleY":179.5,"titleAlign":"center","titleBaseline":"middle","labelFontSize":16,"tickSize":-6,"labelPadding":17,"labelFlush":false,"grid":false}},
   "color":{"field":"g","type":"nominal","scale":{"domain":["A","B"],"range":["#000000","#86866f"]},"legend":null}}},
 {"layer":[
  {"data":{"name":"par"},"mark":{"type":"line","color":"#ff00ff","strokeWidth":1.5},
   "encoding":{"y":{"field":"i","type":"quantitative","scale":{"domain":[0,6000000],"nice":false},"axis":{"orient":"left","title":"PAR(μmol/m²)","values":[0,1000000,2000000,3000000,4000000,5000000,6000000],"format":"d"}}}},
  {"data":{"name":"par"},"mark":{"type":"point","shape":"square","filled":true,"color":"#ff00ff","size":38,"opacity":1},
   "encoding":{"y":{"field":"i","type":"quantitative","scale":{"domain":[0,6000000],"nice":false},"axis":{"orient":"left","title":"PAR(μmol/m²)","values":[0,1000000,2000000,3000000,4000000,5000000,6000000],"format":"d"}}}},
  {"data":{"name":"par"},"mark":{"type":"line","color":"#b4b8dc","strokeWidth":3.5},
   "encoding":{"y":{"field":"o","type":"quantitative","scale":{"domain":[0,6000000],"nice":false},"axis":{"orient":"left","title":"PAR(μmol/m²)","values":[0,1000000,2000000,3000000,4000000,5000000,6000000],"format":"d"}}}},
  {"data":{"name":"par"},"mark":{"type":"line","color":"#000080","strokeWidth":1},
   "encoding":{"y":{"field":"o","type":"quantitative","scale":{"domain":[0,6000000],"nice":false},"axis":{"orient":"left","title":"PAR(μmol/m²)","values":[0,1000000,2000000,3000000,4000000,5000000,6000000],"format":"d"}}}},
  {"data":{"name":"par"},"mark":{"type":"point","shape":"diamond","filled":true,"color":"#000080","size":45,"opacity":1},
   "encoding":{"y":{"field":"o","type":"quantitative","scale":{"domain":[0,6000000],"nice":false},"axis":{"orient":"left","title":"PAR(μmol/m²)","values":[0,1000000,2000000,3000000,4000000,5000000,6000000],"format":"d"}}}},
  {"data":{"name":"ptr"},"mark":{"type":"area","fill":"#b7dee8","fillOpacity":1,"interpolate":"linear"},
   "encoding":{"y":{"field":"y","type":"quantitative","scale":{"domain":[0,6000000],"nice":false},"axis":{"orient":"left","title":"PAR(μmol/m²)","values":[0,1000000,2000000,3000000,4000000,5000000,6000000],"format":"d"}},"y2":{"field":"y2"},
    "stroke":{"field":"k","type":"nominal","scale":{"domain":["rain","out","in"],"range":["#404040","#4a4a9c","#ff66cc"]},"legend":null},
    "strokeWidth":{"field":"k","type":"nominal","scale":{"domain":["rain","out","in"],"range":[1,1,2.5]},"legend":null}}},
  {"data":{"name":"box"},"mark":{"type":"rect","fill":"#b7dee8","fillOpacity":1},
   "encoding":{"x2":{"field":"t2"},"y":{"field":"y","type":"quantitative","scale":{"domain":[0,6000000],"nice":false},"axis":{"orient":"left","title":"PAR(μmol/m²)","values":[0,1000000,2000000,3000000,4000000,5000000,6000000],"format":"d"}},"y2":{"field":"y2"},
    "stroke":{"field":"k","type":"nominal","scale":{"domain":["rain","out","in"],"range":["#404040","#4a4a9c","#ff66cc"]},"legend":null},
    "strokeWidth":{"field":"k","type":"nominal","scale":{"domain":["rain","out","in"],"range":[1,1,2.5]},"legend":null}}},
  {"data":{"name":"lbl"},"mark":{"type":"text","font":"Noto Sans CJK TC","fontSize":24,"color":"#000000","align":"center","baseline":"middle"},
   "encoding":{"y":{"field":"y","type":"quantitative","scale":{"domain":[0,6000000],"nice":false},"axis":{"orient":"left","title":"PAR(μmol/m²)","values":[0,1000000,2000000,3000000,4000000,5000000,6000000],"format":"d"}},"text":{"field":"s"}}}
 ]}
],
"resolve":{"scale":{"y":"independent","color":"independent"},"axis":{"y":"independent"}}
}
